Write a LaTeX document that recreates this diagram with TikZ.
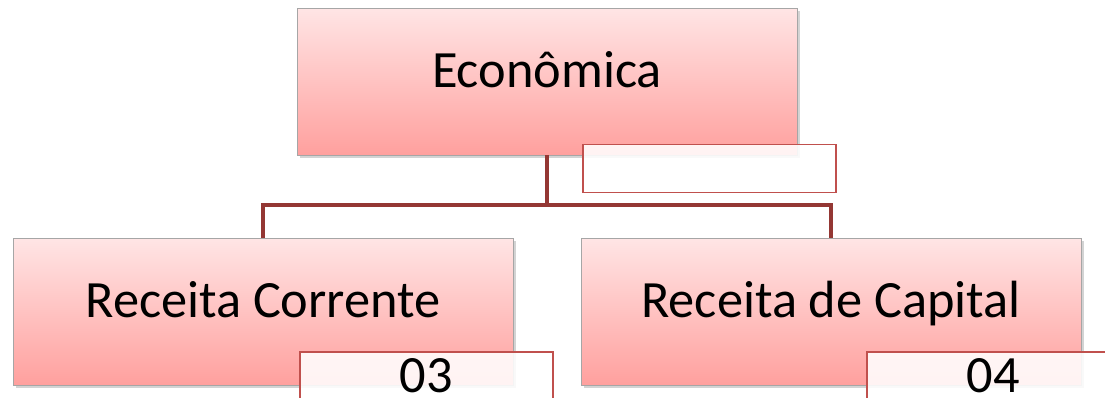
\documentclass[tikz,border=0pt]{standalone}
\usepackage{fontspec}
\setmainfont{Carlito}
\usetikzlibrary{shadows}
\definecolor{boxtop}{RGB}{255,229,229}
\definecolor{boxbot}{RGB}{255,160,158}
\definecolor{linkred}{RGB}{148,55,52}
\definecolor{tagred}{RGB}{192,80,77}
\tikzset{
	unitbox/.style={draw=gray!70, thin, top color=boxtop, bottom color=boxbot,
		minimum width=10cm, minimum height=2.94cm, inner sep=0pt,
		text height=0.8cm, text depth=0.54cm,
		font=\fontsize{29.8}{36}\selectfont,
		drop shadow={shadow xshift=0.06cm, shadow yshift=-0.06cm, opacity=0.35}},
	tagbox/.style={draw=tagred, line width=0.8pt, fill=white, fill opacity=0.88, text opacity=1,
		minimum width=5.06cm, minimum height=0.96cm, inner sep=0pt,
		font=\fontsize{29.8}{36}\selectfont},
	link/.style={draw=linkred, line width=2.3pt}
}

\begin{document}
\begin{tikzpicture}[x=0.02cm, y=-0.02cm]
\useasboundingbox (0,0) rectangle (1105,398);

\node[unitbox] (eco) at (547,81.5) {Econômica};
\node[unitbox] (corr) at (263,311.5) {Receita Corrente};
\node[unitbox] (cap) at (831,311.5) {Receita de Capital};

\coordinate (split) at (547,205);
\draw[link] (eco.south) -- (split);
\draw[link] (split) -| (corr.north);
\draw[link] (split) -| (cap.north);

\node[tagbox] (ecotag) at (709.5,168.5) {};
\node[tagbox] (corrtag) at (426.5,376) {03};
\node[tagbox] (captag) at (993.5,376) {04};
\end{tikzpicture}
\end{document}
